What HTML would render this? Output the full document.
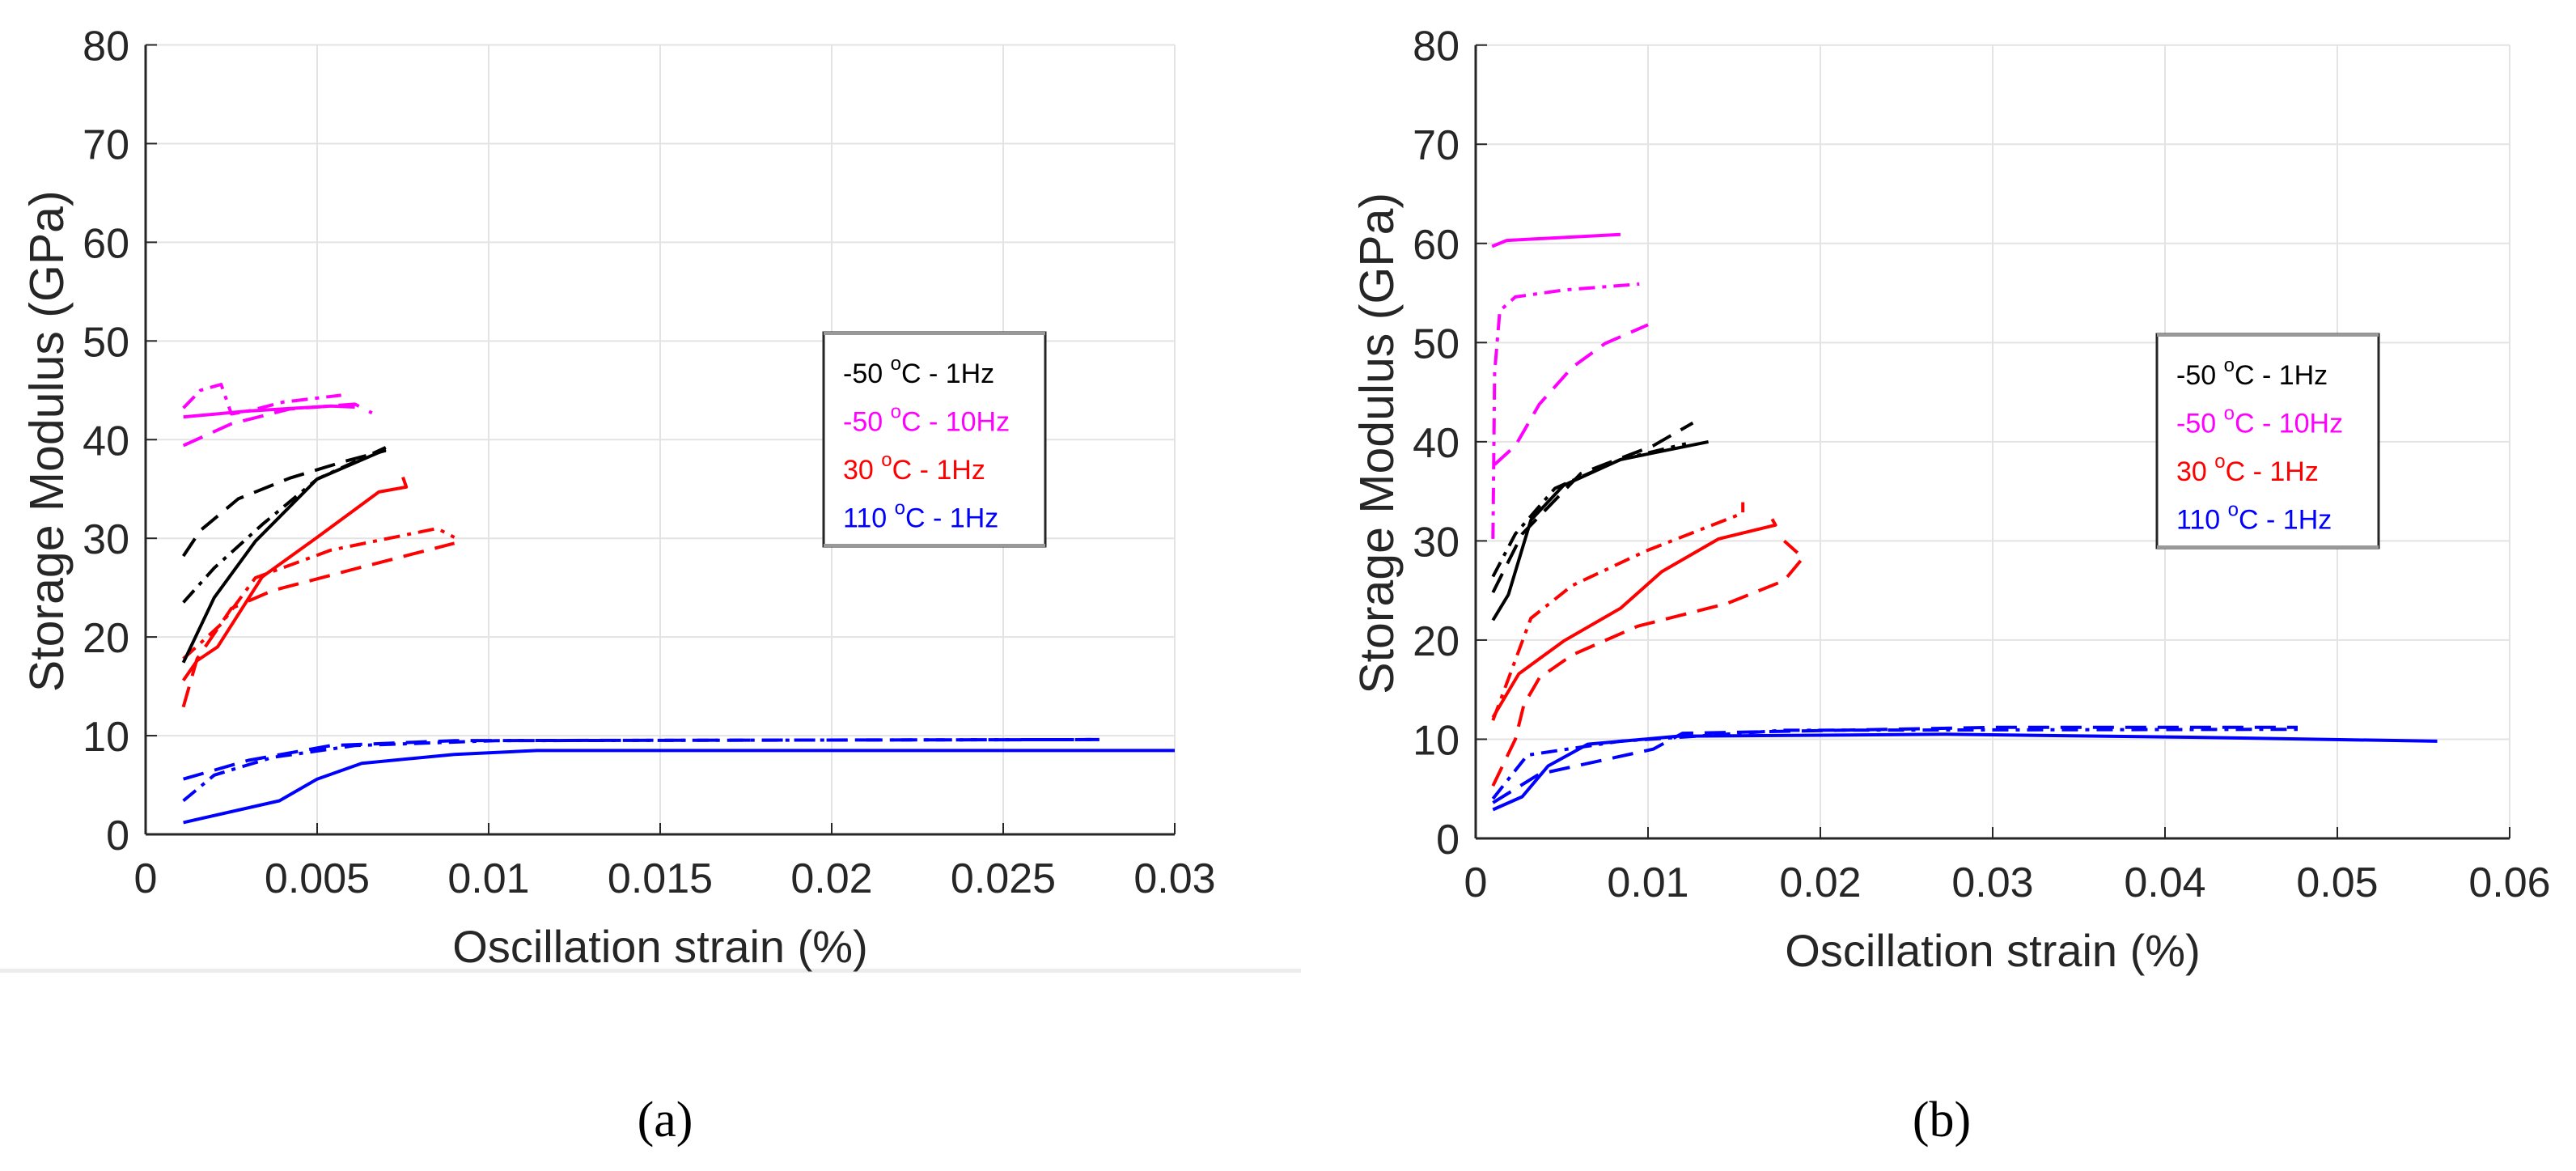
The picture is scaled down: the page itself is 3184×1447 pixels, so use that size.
<!DOCTYPE html>
<html><head><meta charset="utf-8"><style>
html,body{margin:0;padding:0;background:#fff;}
svg{display:block;}
text{font-family:"Liberation Sans",Arial,sans-serif;}
</style></head><body>
<svg id="fig" width="3184" height="1447" viewBox="0 0 3184 1447" xmlns="http://www.w3.org/2000/svg">
<rect x="0" y="0" width="3184" height="1447" fill="#fff"/>
<rect x="0" y="1197" width="1608" height="5" fill="#ececec"/>
<text x="822" y="1404" font-size="62" text-anchor="middle" style="font-family:'Liberation Serif',serif">(a)</text>
<text x="2400" y="1404" font-size="62" text-anchor="middle" style="font-family:'Liberation Serif',serif">(b)</text>
</svg>
<script>
// ---- Data: panel (a) ----
const xTicksA = [0, 0.005, 0.01, 0.015, 0.02, 0.025, 0.03];
const xTickLabelsA = ["0", "0.005", "0.01", "0.015", "0.02", "0.025", "0.03"];
const xTicksB = [0, 0.01, 0.02, 0.03, 0.04, 0.05, 0.06];
const xTickLabelsB = ["0", "0.01", "0.02", "0.03", "0.04", "0.05", "0.06"];
const yTicks = [0, 10, 20, 30, 40, 50, 60, 70, 80];
const legendLabels = ["-50", "-50", "30", "110"];
const legendSuffix = [" - 1Hz", " - 10Hz", " - 1Hz", " - 1Hz"];
const seriesColors = ["#000000", "#ff00ff", "#ff0000", "#0000ff"];

const aBlackSolidX = [0.0011, 0.002, 0.0032, 0.005, 0.0070];
const aBlackSolidY = [17.4, 24.0, 29.7, 36.0, 39.0];
const aBlackDashX = [0.0011, 0.0016, 0.0027, 0.0042, 0.0058, 0.0070];
const aBlackDashY = [28.2, 30.8, 34.0, 36.1, 37.8, 38.9];
const aBlackDotX = [0.0011, 0.002, 0.0034, 0.005, 0.0070];
const aBlackDotY = [23.5, 27.0, 31.4, 36.0, 39.2];
const aMagSolidX = [0.0011, 0.003, 0.0054, 0.0061];
const aMagSolidY = [42.3, 42.9, 43.4, 43.3];
const aMagDotX = [0.0011, 0.0016, 0.0022, 0.0025, 0.003, 0.004, 0.0057];
const aMagDotY = [43.2, 45.0, 45.6, 42.6, 42.9, 43.8, 44.5];
const aMagDashX = [0.0011, 0.0025, 0.0042, 0.0061, 0.0066];
const aMagDashY = [39.4, 41.6, 43.1, 43.6, 42.7];
const aRedSolidX = [0.0011, 0.0015, 0.0021, 0.0034, 0.005, 0.0068, 0.0076, 0.0075];
const aRedSolidY = [15.6, 17.6, 19.0, 26.1, 30.1, 34.7, 35.2, 36.2];
const aRedDashX = [0.0011, 0.0015, 0.0025, 0.0037, 0.0061, 0.009];
const aRedDashY = [12.9, 17.8, 22.9, 24.7, 26.9, 29.5];
const aRedDotX = [0.0011, 0.0022, 0.0032, 0.0054, 0.0085, 0.009];
const aRedDotY = [17.8, 21.3, 26.0, 28.8, 31.0, 30.1];
const aBlueSolidX = [0.0011, 0.0039, 0.005, 0.0063, 0.009, 0.0114, 0.03];
const aBlueSolidY = [1.2, 3.4, 5.6, 7.2, 8.1, 8.5, 8.5];
const aBlueDashX = [0.0011, 0.003, 0.0054, 0.009, 0.0278];
const aBlueDashY = [5.6, 7.5, 9.0, 9.5, 9.6];
const aBlueDotX = [0.0011, 0.002, 0.0037, 0.0061, 0.0102, 0.0278];
const aBlueDotY = [3.4, 6.0, 7.8, 9.0, 9.5, 9.6];

// ---- Data: panel (b) ----
const bMagSolidX = [0.00095, 0.0018, 0.0084];
const bMagSolidY = [59.7, 60.3, 60.9];
const bMagDotX = [0.001, 0.0011, 0.0014, 0.0023, 0.0051, 0.0095];
const bMagDotY = [30.2, 47.0, 53.2, 54.6, 55.3, 55.9];
const bMagDashX = [0.0011, 0.0023, 0.0037, 0.0056, 0.0075, 0.01];
const bMagDashY = [37.7, 39.6, 43.8, 47.5, 49.9, 51.8];
const bBlackSolidX = [0.001, 0.0019, 0.0032, 0.0051, 0.0084, 0.0135];
const bBlackSolidY = [22.0, 24.6, 32.1, 35.6, 38.2, 40.0];
const bBlackDashX = [0.001, 0.0027, 0.0061, 0.0103, 0.0126];
const bBlackDashY = [24.8, 30.7, 36.8, 39.6, 41.9];
const bBlackDotX = [0.001, 0.0023, 0.0046, 0.0084, 0.0122];
const bBlackDotY = [26.4, 30.7, 35.3, 38.2, 39.8];
const bRedSolidX = [0.001, 0.0025, 0.0051, 0.0084, 0.0108, 0.0141, 0.0174, 0.0172];
const bRedSolidY = [12.2, 16.6, 19.9, 23.2, 26.9, 30.2, 31.6, 32.2];
const bRedDotX = [0.001, 0.0032, 0.0056, 0.0099, 0.0155, 0.0155];
const bRedDotY = [11.9, 22.2, 25.5, 29.0, 32.8, 33.9];
const bRedDashX = [0.001, 0.0023, 0.0028, 0.0037, 0.0056, 0.0094, 0.0146, 0.0179, 0.019, 0.0179];
const bRedDashY = [5.3, 10.0, 13.5, 16.2, 18.5, 21.4, 23.7, 26.0, 28.3, 30.0];
const bBlueSolidX = [0.001, 0.0027, 0.0042, 0.0065, 0.0117, 0.0273, 0.0415, 0.0558];
const bBlueSolidY = [2.9, 4.2, 7.3, 9.5, 10.3, 10.5, 10.2, 9.8];
const bBlueDashX = [0.001, 0.0037, 0.0103, 0.012, 0.03, 0.0477];
const bBlueDashY = [3.6, 6.5, 9.0, 10.6, 11.2, 11.2];
const bBlueDotX = [0.001, 0.003, 0.0084, 0.0179, 0.0477];
const bBlueDotY = [4.0, 8.4, 9.8, 10.9, 11.0];

const NS = "http://www.w3.org/2000/svg";
const svg = document.getElementById("fig");
function mk(tag, attrs, parent) {
  const e = document.createElementNS(NS, tag);
  for (const k in attrs) e.setAttribute(k, attrs[k]);
  (parent || svg).appendChild(e);
  return e;
}
const DASH = {solid: null, dash: "26 14", dot: "20 9 5 9"};

function panel(cfg) {
  const g = mk("g", {});
  
  
  const X = v => cfg.x0 + (v - 0) / cfg.xmax * (cfg.x1 - cfg.x0);
  const Y = v => cfg.y0 - v / 80 * (cfg.y0 - cfg.y80);
  cfg.xt.forEach((t, i) => {
    if (i > 0) {
      const l = mk("line", {x1: X(t), x2: X(t), y1: cfg.y80, y2: cfg.y0, stroke: "#e3e3e3", "stroke-width": 2}, g);
      
      
    }
  });
  yTicks.forEach((t, i) => {
    if (i > 0) {
      const l = mk("line", {x1: cfg.x0, x2: cfg.x1, y1: Y(t), y2: Y(t), stroke: "#e3e3e3", "stroke-width": 2}, g);
      
      
    }
  });
  const ax = mk("line", {x1: cfg.x0, x2: cfg.x1, y1: cfg.y0, y2: cfg.y0, stroke: "#262626", "stroke-width": 3}, g);
  
  
  const ay = mk("line", {x1: cfg.x0, x2: cfg.x0, y1: cfg.y80, y2: cfg.y0, stroke: "#262626", "stroke-width": 3}, g);
  
  
  cfg.xt.forEach((t, i) => {
    mk("line", {x1: X(t), x2: X(t), y1: cfg.y0, y2: cfg.y0 - 14, stroke: "#262626", "stroke-width": 2}, g);
    const tx = mk("text", {x: X(t), y: cfg.y0 + 72, "font-size": 52, fill: "#262626", "text-anchor": "middle"}, g);
    
    
    tx.textContent = cfg.xl[i];
  });
  yTicks.forEach(t => {
    mk("line", {x1: cfg.x0, x2: cfg.x0 + 14, y1: Y(t), y2: Y(t), stroke: "#262626", "stroke-width": 2}, g);
    const tx = mk("text", {x: cfg.x0 - 20, y: Y(t) + 19, "font-size": 52, fill: "#262626", "text-anchor": "end"}, g);
    
    
    tx.textContent = String(t);
  });
  const xt = mk("text", {x: (cfg.x0 + cfg.x1) / 2, y: cfg.y0 + 158, "font-size": 56, fill: "#262626", "text-anchor": "middle"}, g);
  
  
  xt.textContent = "Oscillation strain (%)";
  const yt = mk("text", {x: 0, y: 0, "font-size": 59, fill: "#262626", "text-anchor": "middle", transform: `translate(${cfg.x0 - 102},${Y(40) + 2}) rotate(-90)`}, g);
  
  
  yt.textContent = "Storage Modulus (GPa)";
  cfg.series.forEach(s => {
    const pts = s.xs.map((x, i) => X(x).toFixed(1) + "," + Y(s.ys[i]).toFixed(1)).join(" ");
    const a = {points: pts, fill: "none", stroke: s.c, "stroke-width": 4, "stroke-linejoin": "round"};
    if (DASH[s.d]) a["stroke-dasharray"] = DASH[s.d];
    const p = mk("polyline", a, g);
    
    
  });
  const lg = mk("g", {}, g);
  
  
  mk("rect", {x: cfg.lx, y: cfg.ly, width: 274, height: 264, fill: "#fff", stroke: "#262626", "stroke-width": 3}, lg);
  mk("line", {x1: cfg.lx, x2: cfg.lx + 274, y1: cfg.ly + 1, y2: cfg.ly + 1, stroke: "#999", "stroke-width": 4}, lg);
  mk("line", {x1: cfg.lx, x2: cfg.lx + 274, y1: cfg.ly + 263, y2: cfg.ly + 263, stroke: "#999", "stroke-width": 4}, lg);
  legendLabels.forEach((lab, i) => {
    const t = mk("text", {x: cfg.lx + 24, y: cfg.ly + 62 + i * 59.5, "font-size": 34, fill: seriesColors[i]}, lg);
    
    
    const s1 = mk("tspan", {}, t); s1.textContent = lab + " ";
    const s2 = mk("tspan", {dy: -16, "font-size": 24}, t); s2.textContent = "o";
    const s3 = mk("tspan", {dy: 16}, t); s3.textContent = "C" + legendSuffix[i];
  });
}

panel({name: "chart-a", x0: 180, x1: 1452, xmax: 0.03, y0: 1031, y80: 55.5, xt: xTicksA, xl: xTickLabelsA, lx: 1018, ly: 411,
  series: [
    {n: "a-110C-solid", xs: aBlueSolidX, ys: aBlueSolidY, c: "#0000ff", d: "solid"},
    {n: "a-110C-dashed", xs: aBlueDashX, ys: aBlueDashY, c: "#0000ff", d: "dash"},
    {n: "a-110C-dashdot", xs: aBlueDotX, ys: aBlueDotY, c: "#0000ff", d: "dot"},
    {n: "a-30C-solid", xs: aRedSolidX, ys: aRedSolidY, c: "#ff0000", d: "solid"},
    {n: "a-30C-dashed", xs: aRedDashX, ys: aRedDashY, c: "#ff0000", d: "dash"},
    {n: "a-30C-dashdot", xs: aRedDotX, ys: aRedDotY, c: "#ff0000", d: "dot"},
    {n: "a-m50C-1Hz-solid", xs: aBlackSolidX, ys: aBlackSolidY, c: "#000000", d: "solid"},
    {n: "a-m50C-1Hz-dashed", xs: aBlackDashX, ys: aBlackDashY, c: "#000000", d: "dash"},
    {n: "a-m50C-1Hz-dashdot", xs: aBlackDotX, ys: aBlackDotY, c: "#000000", d: "dot"},
    {n: "a-m50C-10Hz-solid", xs: aMagSolidX, ys: aMagSolidY, c: "#ff00ff", d: "solid"},
    {n: "a-m50C-10Hz-dashed", xs: aMagDashX, ys: aMagDashY, c: "#ff00ff", d: "dash"},
    {n: "a-m50C-10Hz-dashdot", xs: aMagDotX, ys: aMagDotY, c: "#ff00ff", d: "dot"}
  ]});
panel({name: "chart-b", x0: 1824, x1: 3102, xmax: 0.06, y0: 1036, y80: 55.7, xt: xTicksB, xl: xTickLabelsB, lx: 2666, ly: 413,
  series: [
    {n: "b-110C-solid", xs: bBlueSolidX, ys: bBlueSolidY, c: "#0000ff", d: "solid"},
    {n: "b-110C-dashed", xs: bBlueDashX, ys: bBlueDashY, c: "#0000ff", d: "dash"},
    {n: "b-110C-dashdot", xs: bBlueDotX, ys: bBlueDotY, c: "#0000ff", d: "dot"},
    {n: "b-30C-solid", xs: bRedSolidX, ys: bRedSolidY, c: "#ff0000", d: "solid"},
    {n: "b-30C-dashed", xs: bRedDashX, ys: bRedDashY, c: "#ff0000", d: "dash"},
    {n: "b-30C-dashdot", xs: bRedDotX, ys: bRedDotY, c: "#ff0000", d: "dot"},
    {n: "b-m50C-1Hz-solid", xs: bBlackSolidX, ys: bBlackSolidY, c: "#000000", d: "solid"},
    {n: "b-m50C-1Hz-dashed", xs: bBlackDashX, ys: bBlackDashY, c: "#000000", d: "dash"},
    {n: "b-m50C-1Hz-dashdot", xs: bBlackDotX, ys: bBlackDotY, c: "#000000", d: "dot"},
    {n: "b-m50C-10Hz-solid", xs: bMagSolidX, ys: bMagSolidY, c: "#ff00ff", d: "solid"},
    {n: "b-m50C-10Hz-dashed", xs: bMagDashX, ys: bMagDashY, c: "#ff00ff", d: "dash"},
    {n: "b-m50C-10Hz-dashdot", xs: bMagDotX, ys: bMagDotY, c: "#ff00ff", d: "dot"}
  ]});
</script>
</body></html>
